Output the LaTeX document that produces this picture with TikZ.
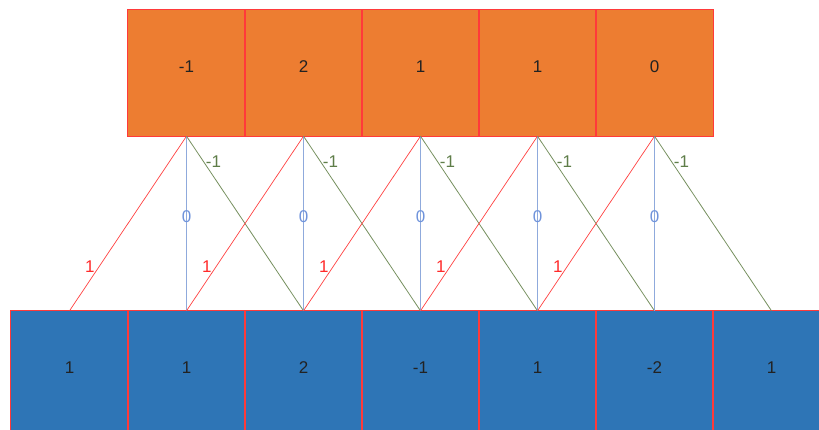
\documentclass[tikz,border=0pt]{standalone}
\usepackage{fontspec}
\setmainfont{Liberation Sans}
\definecolor{boxorange}{HTML}{ED7D31}
\definecolor{boxblue}{HTML}{2E75B6}
\definecolor{edgered}{HTML}{FF3A3A}
\definecolor{linered}{HTML}{FF4040}
\definecolor{lineblue}{HTML}{8FAADC}
\definecolor{linegreen}{HTML}{76905F}
\definecolor{labgreen}{HTML}{5E7D48}
\definecolor{labblue}{HTML}{6F93DB}
\definecolor{labred}{HTML}{FF2A2A}
\definecolor{digit}{HTML}{222222}
\tikzset{
  topbox/.style={fill=boxorange, minimum width=117pt, minimum height=126pt, inner sep=0pt, text depth=12pt, text=digit, font=\fontsize{17}{19}\selectfont},
  botbox/.style={fill=boxblue, minimum width=117pt, minimum height=124pt, inner sep=0pt, text depth=10pt, text=digit, font=\fontsize{17}{19}\selectfont},
  boxedge/.style={draw=edgered, line width=0.9pt},
  redline/.style={draw=linered, line width=0.7pt},
  blueline/.style={draw=lineblue, line width=1pt},
  greenline/.style={draw=linegreen, line width=0.8pt},
  lab/.style={inner sep=0pt, font=\fontsize{17}{19}\selectfont},
}
\begin{document}
\begin{tikzpicture}[x=1pt,y=-1pt]
\useasboundingbox (0,0) rectangle (819,430);
\clip (0,0) rectangle (819,430);
% bottom row
\foreach \v [count=\j] in {1,1,2,-1,1,-2,1} {
  \node[botbox] (b\j) at ({69.5+117*(\j-1)},373) {\v};
}
\foreach \j in {1,...,7} {
  \draw[boxedge] (b\j.south west) rectangle (b\j.north east);
}
% top row
\foreach \v [count=\i] in {-1,2,1,1,0} {
  \node[topbox] (t\i) at ({186.5+117*(\i-1)},73) {\v};
}
\foreach \i in {1,...,5} {
  \draw[boxedge] (t\i.south west) rectangle (t\i.north east);
}
% connectors
\foreach \i in {1,...,5} {
  \pgfmathtruncatemacro{\jb}{\i+1}
  \pgfmathtruncatemacro{\jg}{\i+2}
  \draw[redline] (t\i.south) -- node[lab, pos=0.75, text=labred, xshift=-9pt] {1} (b\i.north);
  \draw[blueline] (t\i.south) -- node[lab, pos=0.46, text=labblue] {0} (b\jb.north);
  \draw[greenline] (t\i.south) -- node[lab, pos=0.145, text=labgreen, xshift=10pt] {-1} (b\jg.north);
}
\end{tikzpicture}
\end{document}
